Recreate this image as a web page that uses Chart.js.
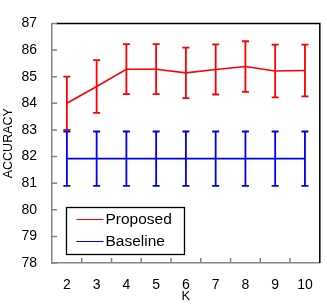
<!DOCTYPE html>
<html>
<head>
<meta charset="utf-8">
<script src="https://cdn.jsdelivr.net/npm/chart.js@4/dist/chart.umd.min.js"></script>
<style>
  html, body { margin: 0; padding: 0; background: #fff; }
  #wrap { width: 327px; height: 307px; }
</style>
</head>
<body>
<div id="wrap"><canvas id="chart" width="327" height="307"></canvas></div>
<script>
const kLabels = ['2', '3', '4', '5', '6', '7', '8', '9', '10'];
const proposedMean = [84.0, 84.63, 85.28, 85.28, 85.14, 85.27, 85.38, 85.21, 85.23];
const proposedErr = [1.0, 0.99, 0.94, 0.94, 0.95, 0.94, 0.95, 0.99, 0.97];
const baselineMean = [81.92, 81.92, 81.92, 81.92, 81.92, 81.92, 81.92, 81.92, 81.92];
const baselineErr = [1.02, 1.02, 1.02, 1.02, 1.02, 1.02, 1.02, 1.02, 1.02];
const yMin = 78;
const yMax = 87;

const FONT = "'Liberation Sans', Arial, sans-serif";
const AXIS_GRAY = '#858585';

// error bars, inner tick marks, box and legend
const decorations = {
  id: 'decorations',
  afterDatasetsDraw(chart) {
    const { ctx } = chart;
    const yScale = chart.scales.y;
    chart.data.datasets.forEach((ds, di) => {
      const meta = chart.getDatasetMeta(di);
      ctx.save();
      ctx.strokeStyle = ds.borderColor;
      ctx.lineWidth = 1.8;
      meta.data.forEach((pt, i) => {
        const top = yScale.getPixelForValue(ds.data[i] + ds.errors[i]);
        const bot = yScale.getPixelForValue(ds.data[i] - ds.errors[i]);
        ctx.beginPath();
        ctx.moveTo(pt.x, top);
        ctx.lineTo(pt.x, bot);
        ctx.moveTo(pt.x - 3.5, top);
        ctx.lineTo(pt.x + 3.5, top);
        ctx.moveTo(pt.x - 3.5, bot);
        ctx.lineTo(pt.x + 3.5, bot);
        ctx.stroke();
      });
      ctx.restore();
    });
  },
  afterDraw(chart) {
    const { ctx, chartArea: a } = chart;
    const xScale = chart.scales.x;
    const yScale = chart.scales.y;
    ctx.save();
    // black top and right border
    ctx.strokeStyle = '#000';
    ctx.lineWidth = 1.5;
    ctx.beginPath();
    ctx.moveTo(a.left + 4, a.top);
    ctx.lineTo(a.right, a.top);
    ctx.lineTo(a.right, a.bottom);
    ctx.stroke();

    // inward ticks
    ctx.strokeStyle = AXIS_GRAY;
    ctx.lineWidth = 1.5;
    ctx.beginPath();
    yScale.ticks.forEach((t) => {
      const y = yScale.getPixelForValue(t.value);
      ctx.moveTo(a.left, y);
      ctx.lineTo(a.left + 5, y);
    });
    for (let i = 0; i < kLabels.length - 1; i++) {
      const x = (xScale.getPixelForTick(i) + xScale.getPixelForTick(i + 1)) / 2;
      ctx.moveTo(x, a.bottom);
      ctx.lineTo(x, a.bottom - 5);
    }
    ctx.stroke();

    // legend
    const lx = Math.round(a.left + 14) + 0.5;
    const ly = Math.round(a.bottom - 56) + 0.5;
    ctx.strokeStyle = '#000';
    ctx.lineWidth = 1.3;
    ctx.strokeRect(lx, ly, 118, 47);
    ctx.font = '15.5px ' + FONT;
    ctx.textBaseline = 'middle';
    ctx.fillStyle = '#000';
    chart.data.datasets.forEach((ds, i) => {
      const y = ly + 12 + i * 22;
      ctx.strokeStyle = ds.borderColor;
      ctx.lineWidth = 1;
      ctx.beginPath();
      ctx.moveTo(lx + 10, y);
      ctx.lineTo(lx + 37, y);
      ctx.stroke();
      ctx.fillText(ds.label, lx + 39, y + 0.5);
    });
    ctx.restore();
  },
};

new Chart(document.getElementById('chart'), {
  type: 'line',
  data: {
    labels: kLabels,
    datasets: [
      {
        label: 'Proposed',
        data: proposedMean,
        errors: proposedErr,
        borderColor: '#ff0000',
        borderWidth: 1.6,
        pointRadius: 0,
        tension: 0,
      },
      {
        label: 'Baseline',
        data: baselineMean,
        errors: baselineErr,
        borderColor: '#0000ee',
        borderWidth: 1.8,
        pointRadius: 0,
        tension: 0,
      },
    ],
  },
  options: {
    responsive: false,
    animation: false,
    layout: { padding: { top: 10, right: 5, left: 0, bottom: 0 } },
    plugins: { legend: { display: false }, tooltip: { enabled: false } },
    scales: {
      x: {
        offset: true,
        grid: { display: false, drawTicks: false },
        border: { display: true, color: AXIS_GRAY, width: 1.5 },
        ticks: { color: '#000', font: { family: FONT, size: 14 }, padding: 14, maxRotation: 0 },
        title: { display: true, text: 'K', color: '#000', font: { family: FONT, size: 13 }, padding: { top: 0, bottom: 2.5 } },
        afterFit(scale) { scale.height = 44; },
      },
      y: {
        min: yMin,
        max: yMax,
        grid: { display: false, drawTicks: false },
        border: { display: true, color: AXIS_GRAY, width: 1.5 },
        ticks: { stepSize: 1, color: '#000', font: { family: FONT, size: 14 }, padding: 15 },
        title: { display: true, text: 'ACCURACY', color: '#000', font: { family: FONT, size: 12.5 }, padding: { top: 1.5, bottom: 0 } },
        afterFit(scale) { scale.width = 52; },
      },
    },
  },
  plugins: [decorations],
});
</script>
</body>
</html>
